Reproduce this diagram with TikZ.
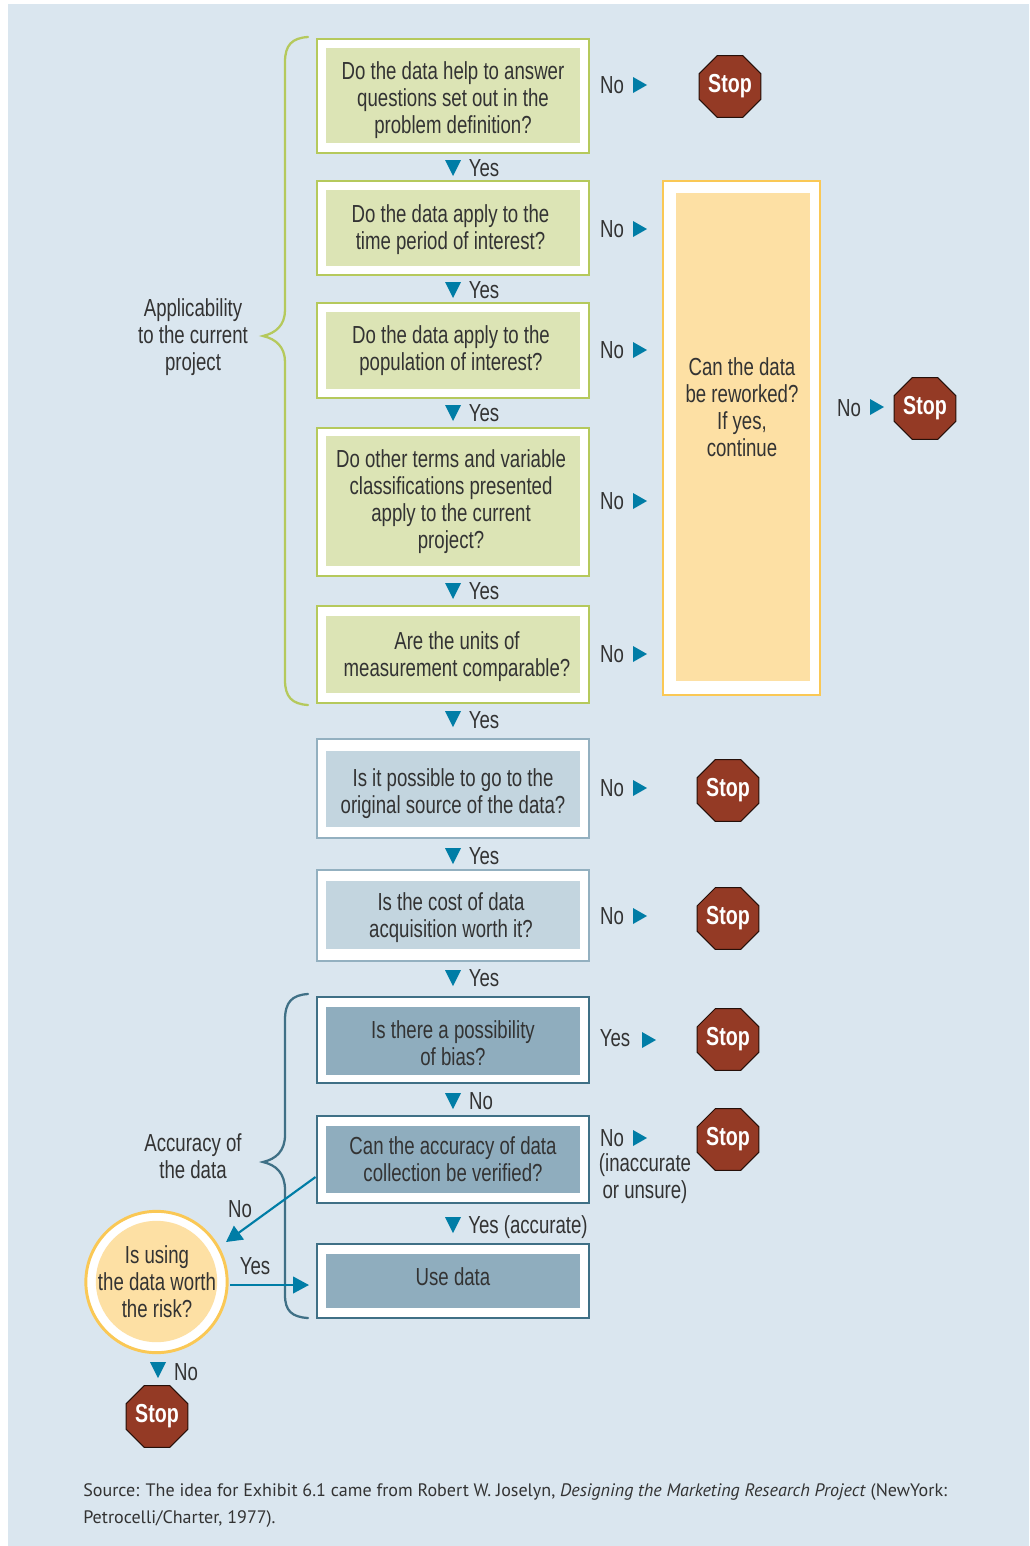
\documentclass[tikz,border=0pt]{standalone}
\usepackage{fontspec}
\setmainfont[FakeStretch=0.755]{Liberation Sans}
\newfontfamily\srcfont{PT Sans}
\usetikzlibrary{shapes.geometric,arrows.meta,fit}
\definecolor{panel}{HTML}{DAE6EF}
\definecolor{grn}{HTML}{B5C95C}
\definecolor{grnin}{HTML}{DCE4B5}
\definecolor{blu}{HTML}{93B0C0}
\definecolor{bluin}{HTML}{C3D5DF}
\definecolor{tealout}{HTML}{3F7086}
\definecolor{tealin}{HTML}{8FADBE}
\definecolor{ylw}{HTML}{FAC855}
\definecolor{ylwin}{HTML}{FDE0A4}
\definecolor{mkc}{HTML}{007DA6}
\definecolor{stopc}{HTML}{943A25}
\definecolor{ink}{HTML}{333333}
\tikzset{
  x=0.75pt,y=-0.75pt,
  outbox/.style={fill=white,line width=2.2pt,inner sep=0pt,fit={#1}},
  inbox/.style={inner sep=0pt,fit={#1}},
  lbl/.style={text=ink,align=center,inner sep=0pt,font=\fontsize{18.5}{20.25}\selectfont},
  stopsign/.style={regular polygon,regular polygon sides=8,
    minimum size=49pt,inner sep=0pt,fill=stopc,draw=black!75!stopc,line width=0.7pt,
    text=white,font=\fontsize{19.5}{20}\selectfont\bfseries},
  curlyb/.style={line width=1.7pt,line cap=round},
  flow/.style={draw=mkc,line width=1.6pt,-{Triangle[length=12pt,width=12.5pt]}},
  srctext/.style={text=ink,anchor=west,inner sep=0pt,font=\srcfont\fontsize{13.54}{15}\selectfont},
}
\newcommand\tdown[2]{\fill[mkc] (#1-8,#2-8) -- (#1+8,#2-8) -- (#1,#2+8) -- cycle;}
\newcommand\tright[2]{\fill[mkc] (#1-7,#2-8) -- (#1+7,#2) -- (#1-7,#2+8) -- cycle;}
\begin{document}
\begin{tikzpicture}
\useasboundingbox (0,0) rectangle (1029,1546);
\fill[white] (0,0) rectangle (1029,1546);
\fill[panel] (8,4) rectangle (1029,1546);

% braces
\draw[curlyb,grn] (308,37) .. controls (292,38) and (285,45) .. (285,62) -- (285,310)
  .. controls (285,325) and (276,333) .. (263,336) .. controls (276,339) and (285,347) .. (285,362)
  -- (285,680) .. controls (285,697) and (292,704) .. (308,705);
\draw[curlyb,tealout] (308,994) .. controls (292,995) and (285,1002) .. (285,1020) -- (285,1135)
  .. controls (285,1151) and (276,1159) .. (263,1162) .. controls (276,1165) and (285,1173) .. (285,1190)
  -- (285,1295) .. controls (285,1311) and (292,1317) .. (308,1318);

% green boxes
\node[outbox={(317,39)(589,153)},draw=grn] (b1) {};
\node[inbox={(326,48)(580,143)},fill=grnin] (i1) {};
\node[outbox={(317,181)(589,275)},draw=grn] (b2) {};
\node[inbox={(326,190)(580,266)},fill=grnin] (i2) {};
\node[outbox={(317,303)(589,398)},draw=grn] (b3) {};
\node[inbox={(326,312)(580,389)},fill=grnin] (i3) {};
\node[outbox={(317,428)(589,576)},draw=grn] (b4) {};
\node[inbox={(326,436)(580,566)},fill=grnin] (i4) {};
\node[outbox={(317,606)(589,703)},draw=grn] (b5) {};
\node[inbox={(326,616)(580,693)},fill=grnin] (i5) {};
% light blue boxes
\node[outbox={(317,739)(589,838)},draw=blu] (b6) {};
\node[inbox={(326,751)(580,827)},fill=bluin] (i6) {};
\node[outbox={(317,870)(589,961)},draw=blu] (b7) {};
\node[inbox={(326,881)(580,949)},fill=bluin] (i7) {};
% dark boxes
\node[outbox={(317,997)(589,1083)},draw=tealout] (b8) {};
\node[inbox={(326,1007)(580,1075)},fill=tealin] (i8) {};
\node[outbox={(317,1116)(589,1203)},draw=tealout] (b9) {};
\node[inbox={(326,1126)(580,1193)},fill=tealin] (i9) {};
\node[outbox={(317,1244)(589,1318)},draw=tealout] (b10) {};
\node[inbox={(326,1254)(580,1308)},fill=tealin] (i10) {};
% yellow box
\node[outbox={(663,181)(820,695)},draw=ylw] (by) {};
\node[inbox={(676,193)(810,681)},fill=ylwin] (iy) {};
% circle
\node[circle,draw=ylw,line width=2.2pt,fill=white,minimum size=106pt,inner sep=0pt] (c0) at (156.5,1282) {};
\node[circle,fill=ylwin,minimum size=91pt,inner sep=0pt] (c1) at (156.5,1281.5) {};

% box texts
\node[lbl] (t1) at (453,100) {Do the data help to answer\\questions set out in the\\problem definition?};
\node[lbl] (t2) at (450.5,230) {Do the data apply to the\\time period of interest?};
\node[lbl] (t3) at (451,351) {Do the data apply to the\\population of interest?};
\node[lbl] (t4) at (451,502) {Do other terms and variable\\classifications presented\\apply to the current\\project?};
\node[lbl] (t5) at (457,657) {Are the units of\\measurement comparable?};
\node[lbl] (t6) at (453,794) {Is it possible to go to the\\original source of the data?};
\node[lbl] (t7) at (451,918) {Is the cost of data\\acquisition worth it?};
\node[lbl] (t8) at (453,1043) {Is there a possibility\\of bias?};
\node[lbl] (t9) at (453,1159) {Can the accuracy of data\\collection be verified?};
\node[lbl] (t10) at (453,1277) {Use data};
\node[lbl] (ty) at (742,407) {Can the data\\be reworked?\\If yes,\\continue};
\node[lbl] (tc) at (157,1282) {Is using\\the data worth\\the risk?};
\node[lbl] (ta) at (193,337.5) {Applicability\\to the current\\project};
\node[lbl] (tb) at (193,1156) {Accuracy of\\the data};

% stops
\node[stopsign] (s1) at (730,86.5) {Stop};
\node[stopsign] (s2) at (925,408.5) {Stop};
\node[stopsign] (s3) at (728,790.5) {Stop};
\node[stopsign] (s4) at (728,918.5) {Stop};
\node[stopsign] (s5) at (728,1039.5) {Stop};
\node[stopsign] (s6) at (728,1139.5) {Stop};
\node[stopsign] (s7) at (157,1416.5) {Stop};

% No labels
\node[lbl] (n1) at (612,85) {No}; \tright{640}{85}
\node[lbl] (n2) at (612,229) {No}; \tright{640}{229}
\node[lbl] (n3) at (612,350) {No}; \tright{640}{350}
\node[lbl] (n4) at (612,501) {No}; \tright{640}{501}
\node[lbl] (n5) at (612,654) {No}; \tright{640}{654}
\node[lbl] (n6) at (612,788) {No}; \tright{640}{788}
\node[lbl] (n7) at (612,916) {No}; \tright{640}{916}
\node[lbl] (n8) at (615,1038) {Yes}; \tright{649}{1040}
\node[lbl] (n9) at (612,1138) {No}; \tright{640}{1138}
\node[lbl] (n10) at (645,1178.5) {(inaccurate\\or unsure)};
\node[lbl] (n11) at (849,408) {No}; \tright{877}{407}
% Yes labels
\tdown{453}{168} \node[lbl] (y1) at (484,168) {Yes};
\tdown{453}{290} \node[lbl] (y2) at (484,290) {Yes};
\tdown{453}{413} \node[lbl] (y3) at (484,413) {Yes};
\tdown{453}{591} \node[lbl] (y4) at (484,591) {Yes};
\tdown{453}{719} \node[lbl] (y5) at (484,720) {Yes};
\tdown{453}{856} \node[lbl] (y6) at (484,856) {Yes};
\tdown{453}{978} \node[lbl] (y7) at (484,978) {Yes};
\tdown{453}{1101} \node[lbl] (y8) at (481,1101) {No};
\tdown{453}{1225} \node[lbl] (y9) at (528,1227) {Yes (accurate)};
\tdown{158}{1370} \node[lbl] (y10) at (186,1372) {No};

% flow
\node[lbl] (f1) at (240,1209) {No};
\node[lbl] (f2) at (255,1266) {Yes};
\coordinate (ca) at (226,1242);
\coordinate (cb) at (230,1285);
\coordinate (cc) at (309,1285);
\draw[flow] (b9.west |- 0,1177) -- (ca);
\draw[flow] (cb) -- (cc);

% source
\node[srctext] (src1) at (83,1492) {Source: The idea for Exhibit 6.1 came from Robert W. Joselyn, \textit{Designing the Marketing Research Project} (NewYork:};
\node[srctext] (src2) at (83,1519) {Petrocelli/Charter, 1977).};
\end{tikzpicture}
\end{document}
